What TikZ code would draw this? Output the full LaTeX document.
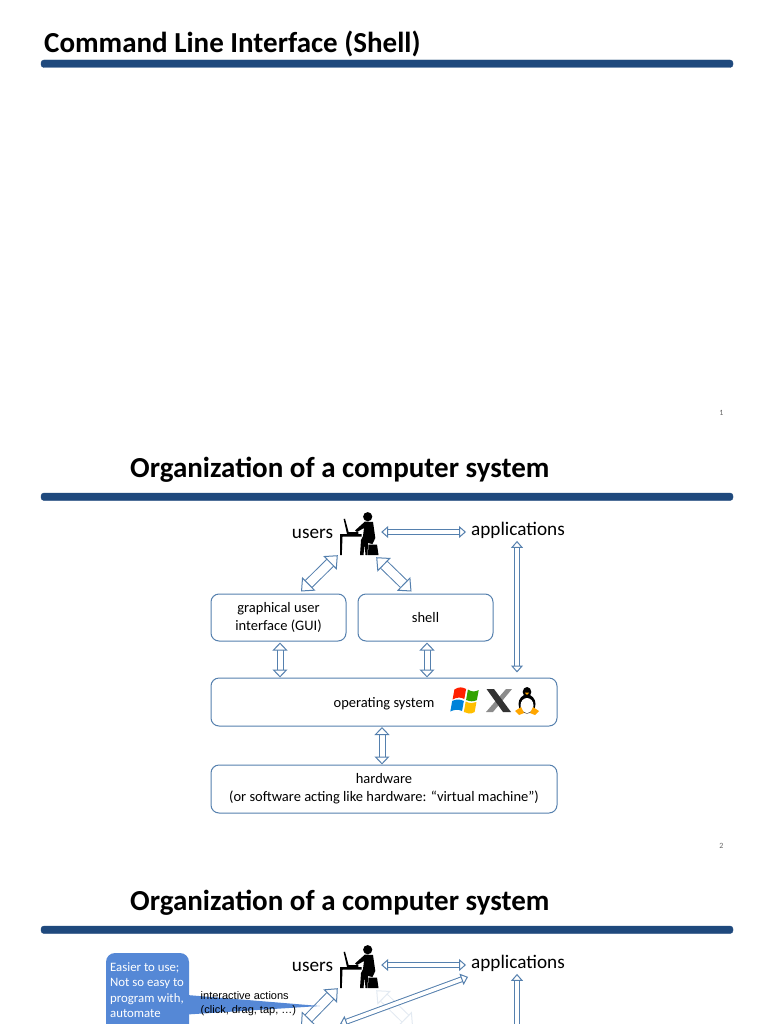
\documentclass[tikz,border=0pt]{standalone}
\usepackage{xcolor}
\usepackage{fontspec}
\setmainfont{Carlito}
\newfontfamily\arialfont{Liberation Sans}
\usepackage{tikz}
\usetikzlibrary{positioning,arrows.meta,shapes.geometric}
\definecolor{rulecolor}{HTML}{1F497D}
\definecolor{linecolor}{HTML}{5580AE}
\definecolor{bubblecolor}{HTML}{5588D6}
\definecolor{fadecolor}{HTML}{E3EAF2}
\tikzset{
  titletext/.style={font=\fontsize{29}{32}\selectfont\bfseries,anchor=west,inner sep=0pt},
  titlerule/.style={draw=rulecolor,fill=rulecolor,rounded corners=3pt},
  pagenum/.style={font=\fontsize{8}{9}\selectfont,text=black!60,inner sep=0pt},
  box/.style={draw=linecolor,line width=1pt,rounded corners=8pt,align=center,font=\fontsize{14.5}{18}\selectfont,inner sep=0pt},
  biglabel/.style={font=\fontsize{19.2}{21}\selectfont,inner sep=0pt},
  dbl/.style={{Triangle[length=7pt,width=12pt,fill=white]}-{Triangle[length=7pt,width=12pt,fill=white]},double=white,double distance=3.8pt,draw=linecolor,line width=1pt},
  dblwide/.style={{Triangle[length=8pt,width=15pt,fill=white]}-{Triangle[length=8pt,width=15pt,fill=white]},double=white,double distance=5pt,draw=linecolor,line width=1pt},
  dbldiag/.style={{Triangle[length=11pt,width=19pt,fill=white]}-{Triangle[length=11pt,width=19pt,fill=white]},double=white,double distance=8.5pt,draw=linecolor,line width=1pt},
  personicon/.pic={
    \fill (27.7,11.7) circle (4.6);
    \fill (25,16.5)--(33,17)--(35.3,33)--(32.5,39)--(28,38)--(27.5,50)--(25.5,50)--(24.5,39)--(23.5,50)--(20,50)--(21,35)--(23,31)--(24,23)--(17,27)--(15,25.5)--cycle;
    \fill (0,29)--(21.7,29)--(21.7,31.7)--(2.5,31.7)--(1.8,50)--(0,50)--cycle;
    \fill (3.6,14)--(5,13.7)--(8.6,27)--(18.3,27)--(18.3,29)--(7,29)--cycle;
    \fill (28.5,39.5)--(37,39.5)--(38.5,50)--(28,50)--cycle;
  },
  oslogos/.pic={
    % windows flag
    \begin{scope}[xscale=0.9,xshift=1pt]
    \fill[red!75!orange] (5,3.5) .. controls (10,0.5) and (14,1) .. (18,3) -- (16,13) .. controls (12,11) and (8,11) .. (3,13.5) -- cycle;
    \fill[green!55!black!80!yellow] (20,3.5) .. controls (24,6) and (28,6) .. (32,4) -- (30,14) .. controls (26,16) and (22,15.5) .. (18,14) -- cycle;
    \fill[blue!40!cyan!85!black] (2.5,15) .. controls (7,13) and (11,13) .. (15.5,15) -- (13.5,25) .. controls (9,23) and (5,23.5) .. (0.5,25.5) -- cycle;
    \fill[orange!50!yellow] (17.5,15.5) .. controls (22,17.5) and (26,17.5) .. (29.5,16) -- (27.5,26) .. controls (23,28.5) and (19,27.5) .. (15.5,26) -- cycle;
    \end{scope}
    % x
    \fill[black!45] (57,3)--(63,3)--(44,26)--(37,26)--cycle;
    \fill[black!80] (37.5,3)--(45,3)--(62,26)--(54,26)--cycle;
    % tux
    \fill[black] (78,6) ellipse (4.3 and 5);
    \fill[black] (78,18) ellipse (8.5 and 9.5);
    \fill[white] (78,19.5) ellipse (6.5 and 7.5);
    \fill[orange!70!yellow] (75.8,6.5)--(80.2,6.5)--(78,9)--cycle;
    \fill[orange!70!yellow] (66,25)--(72,21)--(75,27)--(70,29)--cycle;
    \fill[orange!70!yellow] (90,25)--(84,21)--(81,27)--(86,29)--cycle;
  }
}
\begin{document}
\begin{tikzpicture}[x=1pt,y=-1pt]
\useasboundingbox (0,0) rectangle (768,1024);
\clip (0,0) rectangle (768,1024);
\fill[white] (0,0) rectangle (768,1024);
% first slide
\node[titletext] (titleone) at (44,43.5) {Command Line Interface (Shell)};
\draw[titlerule] (41,60) rectangle (733,67.5);
\node[pagenum] (pageone) at (721.5,413) {1};
% second slide
\node[titletext] (titletwo) at (130,470) {Organization of a computer system};
\draw[titlerule] (41,493) rectangle (733,500.5);
\node[pagenum] (pagetwo) at (721.5,846) {2};
\node[box,minimum width=135pt,minimum height=47pt] (gui) at (278.5,617.5) {\raisebox{-1.5pt}{graphical user}\\\raisebox{-1.5pt}{interface (GUI)}};
\node[box,minimum width=135pt,minimum height=47pt] (shell) at (425.5,617.5) {shell};
\node[box,minimum width=346pt,minimum height=48pt] (os) at (384,702) {};
\node[font=\fontsize{14.5}{18}\selectfont,inner sep=0pt] (ostext) at (384,704) {operating system};
\node[box,minimum width=346pt,minimum height=48pt] (hw) at (384,789) {\raisebox{-1pt}{hardware}\\\raisebox{-1pt}{(or software acting like hardware: “virtual machine”)}};
\node[biglabel] (users) at (312.5,533.5) {users};
\node[biglabel] (apps) at (518,530.5) {applications};
\node[minimum width=40pt,minimum height=50pt,inner sep=0pt] (person) at (360,530) {};
\pic at (340,505) {personicon};
\pic at (449,686) {oslogos};
\coordinate (usersright) at ([xshift=1pt,yshift=-2pt]person.east);
\draw[dbl] (usersright) -- ([xshift=-5pt]usersright -| apps.west);
\draw[dbl] ([xshift=-1pt,yshift=-2pt]apps.south) -- ([xshift=-1pt,yshift=5pt]apps.south |- os.north);
\draw[dbldiag] ([xshift=22.5pt,yshift=2pt]gui.north) -- ([xshift=-2pt,yshift=0pt]person.south west);
\draw[dbldiag] ([xshift=-14pt,yshift=2pt]shell.north) -- ([xshift=-4pt,yshift=-2pt]person.south east);
\draw[dblwide] ([xshift=1.5pt,yshift=-1pt]gui.south) -- ([xshift=1.5pt]gui.south |- os.north);
\draw[dblwide] ([xshift=1.5pt,yshift=-1pt]shell.south) -- ([xshift=1.5pt]shell.south |- os.north);
\draw[dblwide] ([xshift=-2pt,yshift=-0.5pt]os.south) -- ([xshift=-2pt]os.south |- hw.north);
% third slide, runs off the bottom
\node[titletext] (titlethree) at (130,903) {Organization of a computer system};
\draw[titlerule] (41,926) rectangle (733,933.5);
\node[biglabel] (usersb) at (312.5,966.5) {users};
\node[biglabel] (appsb) at (518,963.5) {applications};
\node[minimum width=40pt,minimum height=50pt,inner sep=0pt] (personb) at (360,963) {};
\pic at (340,938) {personicon};
\coordinate (usersrightb) at ([xshift=1pt,yshift=-2pt]personb.east);
\coordinate (guib) at (301,1026);
\coordinate (shellb) at (413,1026);
\coordinate (appsend) at (340,1024);
\coordinate (appsdown) at (517,1040);
\draw[dbldiag,draw=fadecolor] (shellb) -- ([xshift=-4pt,yshift=-2pt]personb.south east);
\draw[dbl] (usersrightb) -- ([xshift=-5pt]usersrightb -| appsb.west);
\draw[dbl] ([xshift=-1pt,yshift=-2pt]appsb.south) -- (appsdown);
\draw[dbl] (appsend) -- ([xshift=-3pt,yshift=-5pt]appsb.south west);
\draw[dbldiag] (guib) -- ([xshift=-2pt,yshift=0pt]personb.south west);
\node[fill=bubblecolor,rounded corners=9pt,minimum width=83pt,minimum height=100pt,inner sep=0pt] (bubble) at (147.5,1003) {};
\fill[bubblecolor] (187,995) -- (320,1006) -- (187,1014.5) -- cycle;
\node[text=white,anchor=north west,align=left,font=\fontsize{12.8}{15.3}\selectfont,inner sep=0pt] (bubbletext) at (110,962.5) {Easier to use;\\Not so easy to\\program with,\\automate};
\node[anchor=west,align=left,font=\arialfont\fontsize{11}{14.3}\selectfont,inner sep=0pt] (actions) at (200.5,1003.5) {interactive actions\\(click, drag, tap, …)};
\end{tikzpicture}
\end{document}
